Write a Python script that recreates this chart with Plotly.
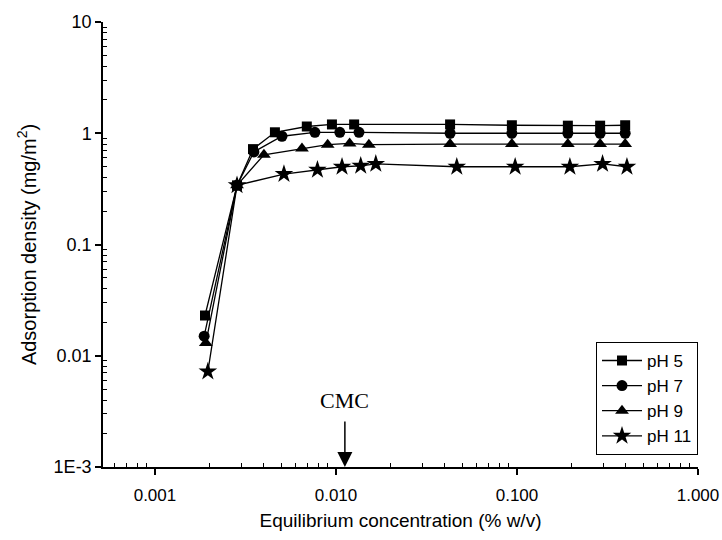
import math
import plotly.graph_objects as go

# ---- data ----
x_ph5 = [0.00189, 0.00284, 0.00348, 0.00460, 0.00690, 0.00950, 0.0126, 0.0427, 0.0937, 0.191, 0.288, 0.396]
y_ph5 = [0.023, 0.34, 0.72, 1.02, 1.15, 1.20, 1.20, 1.20, 1.18, 1.17, 1.17, 1.18]

x_ph7 = [0.00187, 0.00284, 0.00352, 0.00503, 0.00765, 0.0105, 0.0134, 0.0427, 0.0937, 0.191, 0.288, 0.396]
y_ph7 = [0.015, 0.34, 0.68, 0.94, 1.02, 1.02, 1.02, 1.00, 1.00, 1.00, 1.00, 1.00]

x_ph9 = [0.00191, 0.00284, 0.00400, 0.00649, 0.0090, 0.0119, 0.0152, 0.0427, 0.0937, 0.191, 0.288, 0.396]
y_ph9 = [0.013, 0.34, 0.64, 0.73, 0.79, 0.81, 0.79, 0.80, 0.80, 0.80, 0.80, 0.80]

x_ph11 = [0.00196, 0.00284, 0.00516, 0.0079, 0.0108, 0.0137, 0.0166, 0.0465, 0.0977, 0.196, 0.297, 0.405]
y_ph11 = [0.0072, 0.34, 0.43, 0.47, 0.50, 0.51, 0.53, 0.50, 0.50, 0.50, 0.53, 0.50]

series_names = ["pH 5", "pH 7", "pH 9", "pH 11"]
series_symbols = ["square", "circle", "triangle-up", "star"]

x_tickvals = [0.001, 0.01, 0.1, 1.0]
x_ticktext = ["0.001", "0.010", "0.100", "1.000"]
y_tickvals = [0.001, 0.01, 0.1, 1, 10]
y_ticktext = ["1E-3", "0.01", "0.1", "1", "10"]

cmc_value = 0.0112
cmc_label = "CMC"

x_title = "Equilibrium concentration (% w/v)"
y_title = "Adsorption density (mg/m<sup>2</sup>)"

# ---- figure ----
fig = go.Figure()
xs = [x_ph5, x_ph7, x_ph9, x_ph11]
ys = [y_ph5, y_ph7, y_ph9, y_ph11]
sizes = [10, 11, 12, 14]
for name, sym, xx, yy, sz in zip(series_names, series_symbols, xs, ys, sizes):
    fig.add_trace(go.Scatter(
        x=xx, y=yy, name=name, mode="lines+markers",
        line=dict(color="black", width=1.3),
        marker=dict(symbol=sym, size=sz, color="black", line=dict(width=0)),
    ))

minor_x = [k * 10 ** d for d in range(-4, 0) for k in range(2, 10)]
minor_y = [k * 10 ** d for d in range(-3, 1) for k in range(2, 10)]

font_main = "Liberation Sans, Arial, sans-serif"

fig.update_layout(
    width=722, height=540,
    margin=dict(l=103, r=24, t=22, b=73),
    plot_bgcolor="white", paper_bgcolor="white",
    font=dict(family=font_main, color="black", size=14),
    showlegend=True,
    legend=dict(
        x=1.0, xanchor="right", y=0.281, yanchor="top",
        bordercolor="black", borderwidth=1, bgcolor="white",
        font=dict(size=17, family=font_main), itemwidth=40,
        tracegroupgap=0,
    ),
)

fig.update_xaxes(
    type="log", range=[-3.287, 0], automargin=False,
    showgrid=False, zeroline=False,
    showline=True, linecolor="black", linewidth=1.5,
    tickmode="array", tickvals=x_tickvals, ticktext=x_ticktext,
    ticks="outside", ticklen=6, tickwidth=1.5, tickcolor="black",
    tickfont=dict(size=17), ticklabelstandoff=6,
    minor=dict(tickmode="array", tickvals=minor_x, ticks="inside", ticklen=4,
               tickwidth=1.2, tickcolor="black", showgrid=False),
    title=dict(text=x_title, font=dict(size=19), standoff=10),
)
fig.update_yaxes(
    type="log", range=[-3, 1], automargin=False,
    showgrid=False, zeroline=False,
    showline=True, linecolor="black", linewidth=1.5,
    tickmode="array", tickvals=y_tickvals, ticktext=y_ticktext,
    ticks="outside", ticklen=6, tickwidth=1.5, tickcolor="black",
    tickfont=dict(size=18),
    minor=dict(tickmode="array", tickvals=minor_y, ticks="inside", ticklen=4,
               tickwidth=1.2, tickcolor="black", showgrid=False),
    title=dict(text=y_title, font=dict(size=20), standoff=12),
)

# CMC arrow and label
fig.add_annotation(
    x=math.log10(cmc_value), y=0, xref="x", yref="paper",
    text="", showarrow=True, ax=0, ay=-47,
    arrowhead=2, arrowsize=2, arrowwidth=1.5, arrowcolor="black",
)
fig.add_annotation(
    x=math.log10(cmc_value), y=0.15, xref="x", yref="paper",
    yanchor="middle",
    text=cmc_label, showarrow=False,
    font=dict(family="Liberation Serif, Times New Roman, serif", size=22, color="black"),
)

fig.write_html("out.html")
